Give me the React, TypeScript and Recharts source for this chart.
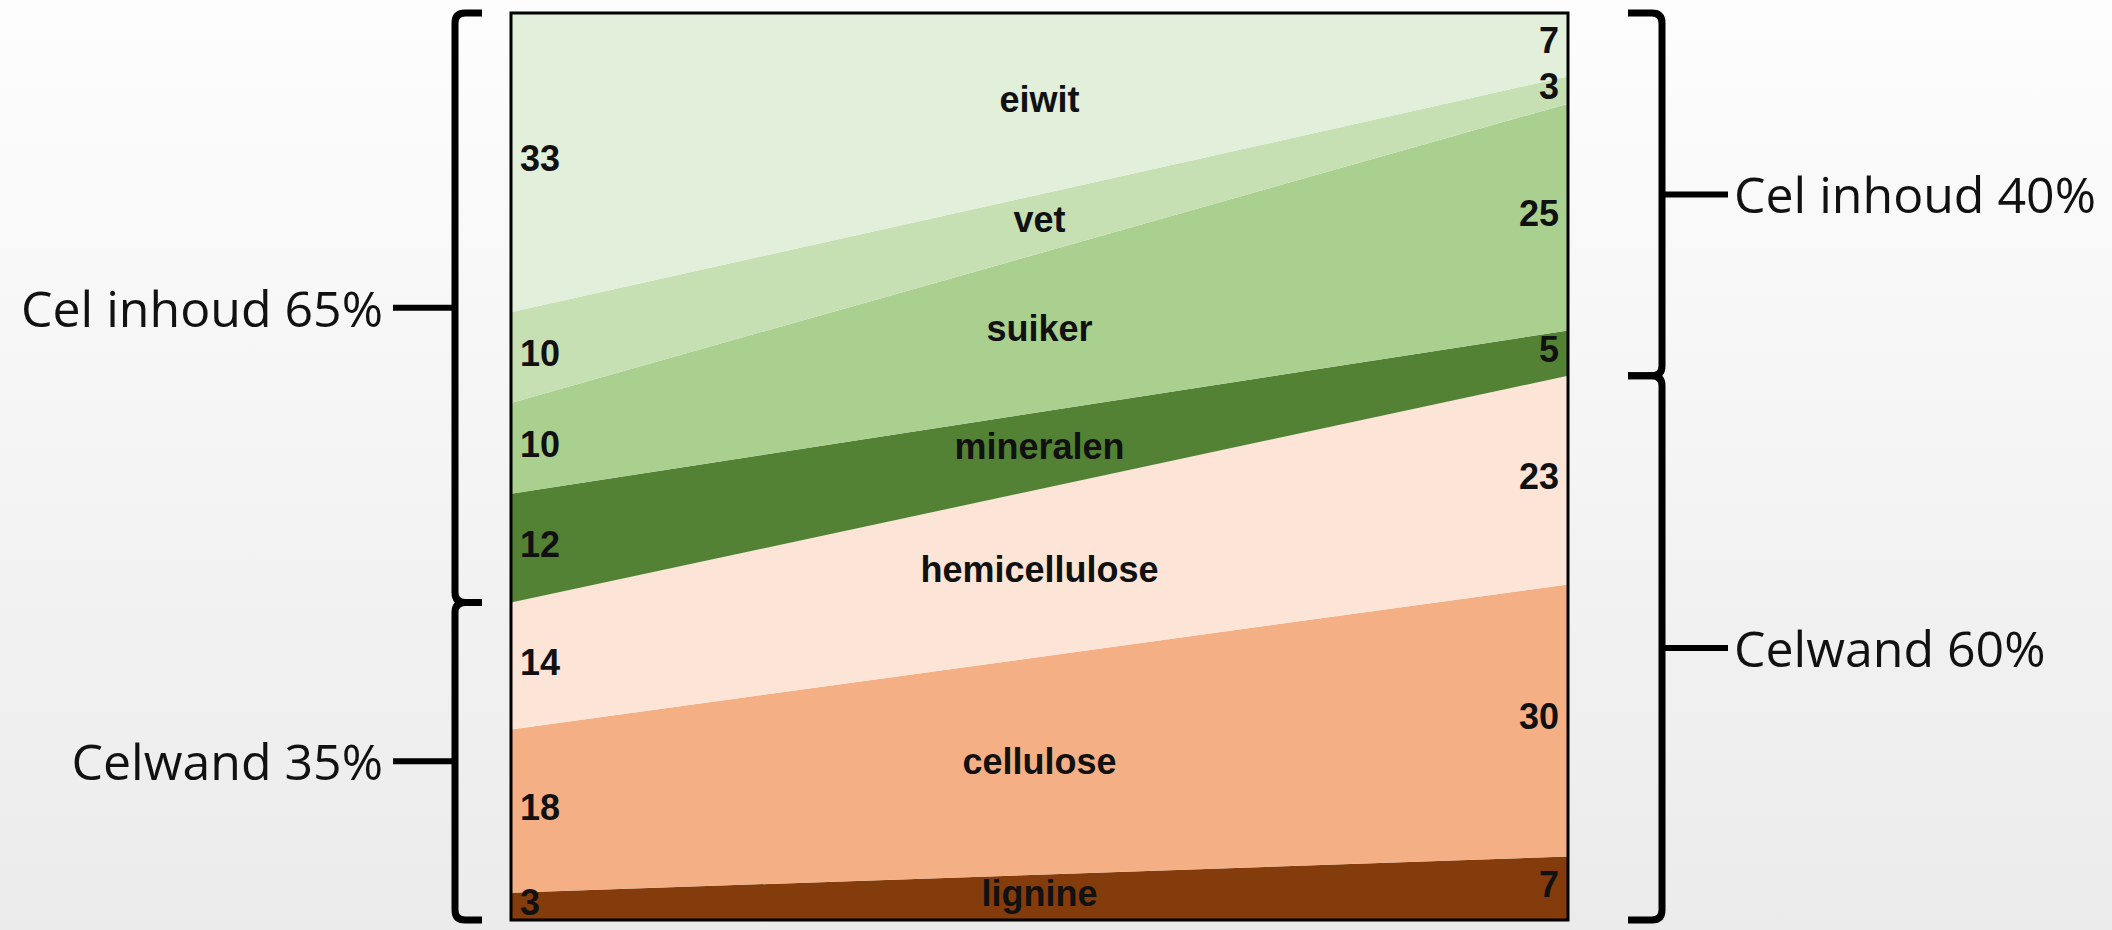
import React from "react";
import { ComposedChart, Area, Scatter, XAxis, YAxis, ReferenceArea } from "recharts";

// bands from top to bottom, values in % of dry matter
const categories = ["eiwit", "vet", "suiker", "mineralen", "hemicellulose", "cellulose", "lignine"];
const leftValues = [33, 10, 10, 12, 14, 18, 3];
const rightValues = [7, 3, 25, 5, 23, 30, 7];
const colors = ["#E2EFDA", "#C6E0B4", "#A9D08E", "#548235", "#FCE4D6", "#F4B084", "#843C0C"];

// groups: name and how many bands (from the top) belong to it
const groupNames = ["Cel inhoud", "Celwand"];
const groupCounts = [4, 3];

const W = 2112;
const H = 930;

const chartData = [leftValues, rightValues].map((vals, x) => {
  const row: Record<string, number> = { x };
  categories.forEach((c, i) => {
    row[c] = vals[i];
  });
  return row;
});

function bandMids(vals: number[]) {
  let top = 100;
  return vals.map((v) => {
    const m = top - v / 2;
    top -= v;
    return m;
  });
}

const leftMid = bandMids(leftValues);
const rightMid = bandMids(rightValues);

type LabelPoint = { x: number; y: number; text: string; side: "left" | "right" | "mid" };

const labelPoints: LabelPoint[] = [
  ...leftValues.map((v, i) => ({ x: 0, y: leftMid[i], text: String(v), side: "left" as const })),
  ...rightValues.map((v, i) => ({ x: 1, y: rightMid[i], text: String(v), side: "right" as const })),
  ...categories.map((c, i) => ({ x: 0.5, y: (leftMid[i] + rightMid[i]) / 2, text: c, side: "mid" as const })),
];

// group spans on each side, in stacked units
function groupSpans(vals: number[]) {
  let top = 100;
  let idx = 0;
  return groupNames.map((name, g) => {
    const total = vals.slice(idx, idx + groupCounts[g]).reduce((a, b) => a + b, 0);
    idx += groupCounts[g];
    const span = { name, total, y1: top - total, y2: top };
    top -= total;
    return span;
  });
}

const leftGroups = groupSpans(leftValues);
const rightGroups = groupSpans(rightValues);

const valueFont = { fontFamily: "'Liberation Sans', Arial, sans-serif", fontWeight: 700, fontSize: 36 };

const LabelShape = (props: any) => {
  const { cx, cy, payload } = props;
  if (cx == null || cy == null) return null;
  let x = cx;
  let anchor: "start" | "end" | "middle" = "middle";
  if (payload.side === "left") {
    x = cx + 9;
    anchor = "start";
  } else if (payload.side === "right") {
    x = cx - 9;
    anchor = "end";
  }
  return (
    <text x={x} y={cy - 4} textAnchor={anchor} dominantBaseline="central" fill="#111" style={valueFont}>
      {payload.text}
    </text>
  );
};

const makeBrace = (side: "left" | "right", label: string) => (props: any) => {
  const { x, y, width, height } = props;
  const y1 = y;
  const y2 = y + height;
  const mid = (y1 + y2) / 2;
  const dir = side === "left" ? -1 : 1;
  const edge = side === "left" ? x : x + width;
  const vx = edge + dir * (side === "left" ? 56 : 94);
  const hook = side === "left" ? edge - 29 : edge + 60;
  const tip = side === "left" ? edge - 118 : edge + 160;
  const tx = side === "left" ? edge - 128 : edge + 166;
  const r = 10;
  const h = -dir; // hooks point towards the box
  const d = `M ${hook} ${y1} L ${vx + h * r} ${y1} Q ${vx} ${y1} ${vx} ${y1 + r} L ${vx} ${y2 - r} Q ${vx} ${y2} ${vx + h * r} ${y2} L ${hook} ${y2}`;
  return (
    <g>
      <path d={d} fill="none" stroke="#000" strokeWidth={7} />
      <line x1={vx} y1={mid} x2={tip} y2={mid} stroke="#000" strokeWidth={6} />
      <text
        x={tx}
        y={mid}
        textAnchor={side === "left" ? "end" : "start"}
        dominantBaseline="central"
        fill="#111"
        style={{ fontFamily: "'Open Sans', sans-serif", fontSize: 50 }}
      >
        {label}
      </text>
    </g>
  );
};

export default function App() {
  return (
    <div
      style={{
        position: "absolute",
        left: 0,
        top: 0,
        width: W,
        height: H,
        background: "linear-gradient(to bottom, #fdfdfd, #ebebeb)",
      }}
    >
      <ComposedChart width={W} height={H} data={chartData} margin={{ top: 13, right: 544, bottom: 10, left: 511 }}>
        <XAxis dataKey="x" type="number" domain={[0, 1]} hide />
        <YAxis type="number" domain={[0, 100]} hide />

        {/* bands, bottom first */}
        {[...categories].reverse().map((c) => {
          const i = categories.indexOf(c);
          return (
            <Area
              key={c}
              dataKey={c}
              type="linear"
              stackId="dm"
              stroke="none"
              fill={colors[i]}
              fillOpacity={1}
              dot={false}
              activeDot={false}
              isAnimationActive={false}
            />
          );
        })}

        {/* frame */}
        <ReferenceArea
          x1={0}
          x2={1}
          y1={0}
          y2={100}
          fill="none"
          fillOpacity={0}
          stroke="#000"
          strokeWidth={3}
          ifOverflow="visible"
          zIndex={1500}
        />

        {leftGroups.map((g) => (
          <ReferenceArea
            key={"l" + g.name}
            x1={0}
            x2={1}
            y1={g.y1}
            y2={g.y2}
            ifOverflow="visible"
            shape={makeBrace("left", `${g.name} ${g.total}%`)}
          />
        ))}
        {rightGroups.map((g) => (
          <ReferenceArea
            key={"r" + g.name}
            x1={0}
            x2={1}
            y1={g.y1}
            y2={g.y2}
            ifOverflow="visible"
            shape={makeBrace("right", `${g.name} ${g.total}%`)}
          />
        ))}

        <Scatter data={labelPoints} dataKey="y" shape={LabelShape} isAnimationActive={false} zIndex={2000} />
      </ComposedChart>
    </div>
  );
}
